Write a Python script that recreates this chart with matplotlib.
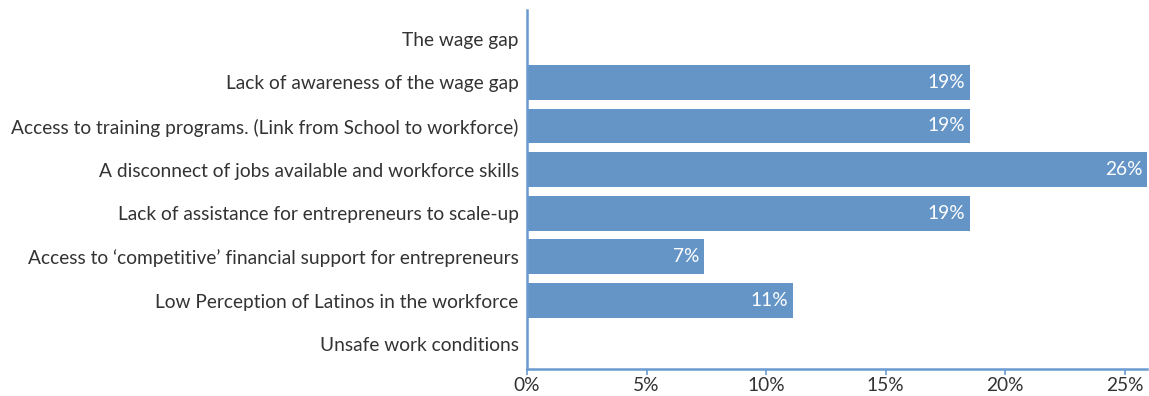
import matplotlib.pyplot as plt
from matplotlib.ticker import PercentFormatter

# survey responses (27 respondents)
categories = [
    "The wage gap",
    "Lack of awareness of the wage gap",
    "Access to training programs. (Link from School to workforce)",
    "A disconnect of jobs available and workforce skills",
    "Lack of assistance for entrepreneurs to scale-up",
    "Access to \u2018competitive\u2019 financial support for entrepreneurs",
    "Low Perception of Latinos in the workforce",
    "Unsafe work conditions",
]
counts = [0, 5, 5, 7, 5, 2, 3, 0]
total = 27
shares = [c / total for c in counts]

BAR = "#6495c6"
AXIS = "#6a9bd0"
TEXT = "#333333"
FS = 13.8

plt.rcParams['font.family'] = ['Lato', 'DejaVu Sans']

fig = plt.figure(figsize=(11.49, 3.96), dpi=100)
ax = fig.add_axes([0.4587, 0.068, 0.5395, 0.907])

y = range(len(categories))
ax.barh(y, shares, height=0.8, color=BAR)

for i, v in enumerate(shares):
    if v > 0:
        ax.text(v - 0.0018, i, f"{round(v * 100):.0f}%", color="white",
                ha="right", va="center", fontsize=FS)

ax.set_yticks(list(y))
ax.set_yticklabels(categories, fontsize=FS, color=TEXT)
ax.set_ylim(7.57, -0.66)
ax.set_xlim(0, max(shares))
ax.set_xticks([0, 0.05, 0.10, 0.15, 0.20, 0.25])
ax.xaxis.set_major_formatter(PercentFormatter(1.0, decimals=0))
ax.tick_params(axis="x", labelsize=FS, labelcolor=TEXT, color=AXIS, length=4, width=1.2, pad=2)
ax.tick_params(axis="y", length=0, pad=6)

for s in ["top", "right"]:
    ax.spines[s].set_visible(False)
for s in ["left", "bottom"]:
    ax.spines[s].set_color(AXIS)
    ax.spines[s].set_linewidth(1.8)

fig.savefig("out.png", dpi=100)
